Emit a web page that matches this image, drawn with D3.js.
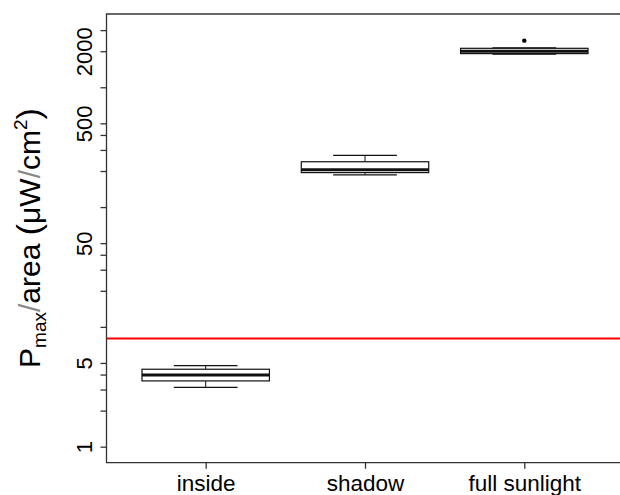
<!DOCTYPE html>
<html>
<head>
<meta charset="utf-8">
<script src="https://cdn.jsdelivr.net/npm/d3@7"></script>
<style>
  body { margin: 0; background: #fff; overflow: hidden; }
  svg { display: block; font-family: "Liberation Sans", Arial, sans-serif; }
  .axis text { fill: #000; font-size: 22px; }
</style>
</head>
<body>
<svg id="chart" width="620" height="495"></svg>
<script>
// data
const categories = ["inside", "shadow", "full sunlight"];
const whiskerLow = [3.13, 186, 1890];
const q1 = [3.54, 194, 1910];
const medians = [3.97, 205, 1995];
const q3 = [4.43, 239, 2115];
const whiskerHigh = [4.75, 270, 2130];
const outliers = [[], [], [2450]];
const yTicks = [1, 2, 3, 4, 5, 10, 20, 30, 40, 50, 100, 200, 300, 400, 500, 1000, 2000, 3000];
const yLabels = [1, 5, 50, 500, 2000];
const threshold = 8;

const svg = d3.select("#chart");
const plot = { left: 106.5, top: 14, bottom: 462.7 };

const x = d3.scalePoint().domain(categories).range([205.7, 524.3]);
const step = x.step();
const boxW = step * 0.8;
const right = x(categories[categories.length - 1]) + 0.62 * step;

const y = d3.scaleLog().domain([0.735, 4090]).range([plot.bottom, plot.top]);

const g = svg.append("g");

// threshold line
g.append("line")
  .attr("x1", plot.left).attr("x2", right)
  .attr("y1", y(threshold)).attr("y2", y(threshold))
  .attr("stroke", "#ff0000").attr("stroke-width", 1.8);

// boxes
g.selectAll(".box")
  .data(categories)
  .enter()
  .append("g")
  .attr("class", "box")
  .each(function(d, i) {
    const b = d3.select(this);
    const cx = x(d);
    const line = (x1, y1, x2, y2, w) => b.append("line")
      .attr("x1", x1).attr("x2", x2).attr("y1", y1).attr("y2", y2)
      .attr("stroke", "#111").attr("stroke-width", w);
    // whiskers
    line(cx, y(q3[i]), cx, y(whiskerHigh[i]), 1);
    line(cx, y(q1[i]), cx, y(whiskerLow[i]), 1);
    line(cx - boxW / 4, y(whiskerHigh[i]), cx + boxW / 4, y(whiskerHigh[i]), 1.2);
    line(cx - boxW / 4, y(whiskerLow[i]), cx + boxW / 4, y(whiskerLow[i]), 1.2);
    b.append("rect")
      .attr("x", cx - boxW / 2)
      .attr("y", y(q3[i]))
      .attr("width", boxW)
      .attr("height", y(q1[i]) - y(q3[i]))
      .attr("fill", "#fff")
      .attr("stroke", "#111")
      .attr("stroke-width", 1.2);
    line(cx - boxW / 2, y(medians[i]), cx + boxW / 2, y(medians[i]), 3);
    b.selectAll("circle")
      .data(outliers[i])
      .enter()
      .append("circle")
      .attr("cx", cx)
      .attr("cy", e => y(e))
      .attr("r", 2.2)
      .attr("fill", "#000");
  });

// frame (the right side falls outside the picture)
g.append("path")
  .attr("d", `M${right},${plot.top}H${plot.left}V${plot.bottom}H${right}`)
  .attr("fill", "none")
  .attr("stroke", "#333")
  .attr("stroke-width", 1.3);

// y axis
const yAxis = d3.axisLeft(y)
  .tickValues(yTicks)
  .tickSize(6)
  .tickFormat(d => yLabels.includes(d) ? d : "");

const ya = svg.append("g")
  .attr("class", "axis")
  .attr("transform", `translate(${plot.left},0)`)
  .call(yAxis);
ya.select(".domain").remove();
ya.selectAll(".tick line").attr("stroke", "#333").attr("stroke-width", 1.3);
ya.selectAll(".tick text")
  .attr("transform", "rotate(-90)")
  .attr("x", 0)
  .attr("y", -14.5)
  .attr("dy", 0)
  .attr("text-anchor", "middle");

// x axis
const xAxis = d3.axisBottom(x).tickSize(6);
const xa = svg.append("g")
  .attr("class", "axis")
  .attr("transform", `translate(0,${plot.bottom})`)
  .call(xAxis);
xa.select(".domain").remove();
xa.selectAll(".tick line").attr("stroke", "#333").attr("stroke-width", 1.3);
xa.selectAll(".tick text")
  .attr("y", 28)
  .attr("dy", 0)
  .style("font-size", "22.5px");

// y axis title
const title = svg.append("text")
  .attr("transform", "translate(40,238)rotate(-90)")
  .attr("text-anchor", "middle")
  .attr("fill", "#000")
  .style("font-size", "30px");
title.append("tspan").text("P");
title.append("tspan").text("max").style("font-size", "19px").attr("dy", 6);
title.append("tspan").text("/").attr("dy", -6).attr("fill", "#888").style("font-weight", "lighter");
title.append("tspan").text("area ");
title.append("tspan").text("(").style("font-size", "34px");
title.append("tspan").text("\u03bcW");
title.append("tspan").text("/").attr("fill", "#888").style("font-weight", "lighter");
title.append("tspan").text("cm");
title.append("tspan").text("2").style("font-size", "19px").attr("dy", -13);
title.append("tspan").text(")").style("font-size", "34px").attr("dy", 13);
</script>
</body>
</html>
